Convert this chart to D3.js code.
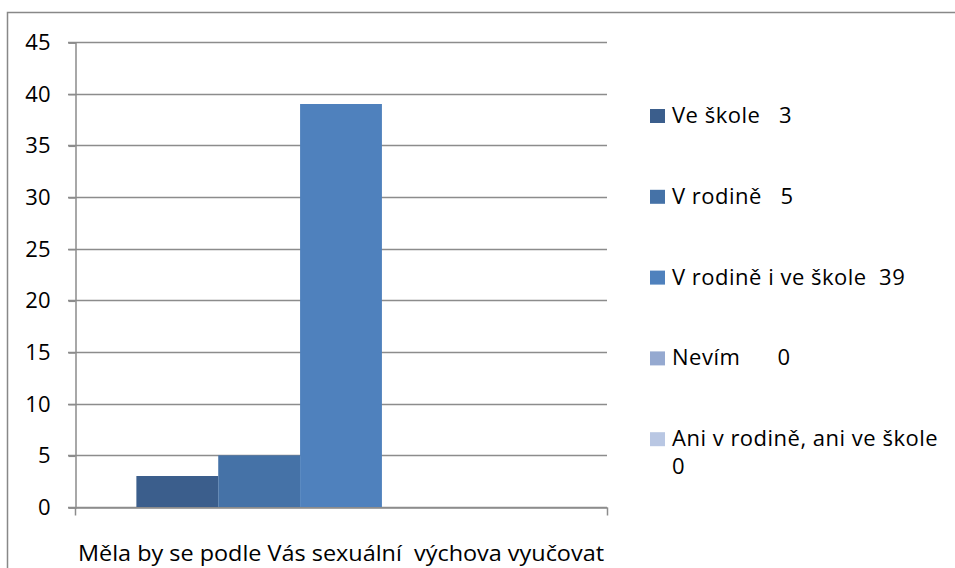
<!DOCTYPE html>
<html>
<head>
<meta charset="utf-8">
<script src="https://cdn.jsdelivr.net/npm/d3@7"></script>
<style>
  body { margin: 0; background: #fff; }
  text { font-family: "Open Sans", "DejaVu Sans", sans-serif; fill: #000; }
</style>
</head>
<body>
<div id="canvas"></div>
<script>
// data
let category = "Měla by se podle Vás sexuální  výchova vyučovat"
let series = ["Ve škole", "V rodině", "V rodině i ve škole", "Nevím", "Ani v rodině, ani ve škole"]
let values = [3, 5, 39, 0, 0]
let legendLabels = [["Ve škole   3"], ["V rodině   5"], ["V rodině i ve škole  39"], ["Nevím      0"], ["Ani v rodině, ani ve škole", "0"]]
let colors = ["#3b5e8c", "#4572a7", "#4f81bd", "#95a9d0", "#b9c7e3"]
let yTicks = [0, 5, 10, 15, 20, 25, 30, 35, 40, 45]

let width = 955
let height = 568
let plot = { left: 75, right: 607, top: 42, bottom: 507 }

let svg = d3.select("#canvas").append("svg")
    .attr("width", width)
    .attr("height", height)

// chart border (top + left visible)
svg.append("path")
    .attr("d", "M7.5," + height + "V12.5H" + width)
    .attr("fill", "none")
    .attr("stroke", "#888")
    .attr("stroke-width", 1.5)

let y = d3.scaleLinear().domain([0, 45]).range([plot.bottom, plot.top])
let x = d3.scaleBand().domain([category]).range([plot.left, plot.right])

// gridlines
svg.append("g")
    .selectAll("line")
    .data(yTicks)
    .enter().append("line")
    .attr("x1", plot.left - 7)
    .attr("x2", plot.right)
    .attr("y1", d => Math.round(y(d)) + 0.5)
    .attr("y2", d => Math.round(y(d)) + 0.5)
    .attr("stroke", "#8c8c8c")
    .attr("stroke-width", 1.5)

// bars: gap width 150% of bar width
let barW = x.bandwidth() / (series.length + 1.5)
let groupStart = x(category) + barW * 0.75
let xs = d3.scaleBand().domain(series).range([groupStart, groupStart + barW * series.length])

svg.append("g")
    .selectAll("rect")
    .data(values)
    .enter().append("rect")
    .attr("x", (d, i) => xs(series[i]))
    .attr("width", xs.bandwidth())
    .attr("y", d => y(d))
    .attr("height", d => plot.bottom - y(d))
    .attr("fill", (d, i) => colors[i])

// y axis
let yAxis = svg.append("g")
    .attr("transform", "translate(" + (plot.left + 0.5) + ",0.5)")
    .call(d3.axisLeft(y).tickValues(yTicks).tickSize(7).tickPadding(18))
yAxis.select(".domain").attr("stroke", "#8c8c8c").attr("stroke-width", 1.5)
yAxis.selectAll(".tick line").attr("stroke", "#8c8c8c").attr("stroke-width", 1.5)
yAxis.selectAll(".tick text")
    .attr("font-size", 22)
    .attr("font-family", "'Open Sans', sans-serif")
    .attr("fill", "#000")

// x axis
let xAxis = svg.append("g")
    .attr("transform", "translate(0," + (plot.bottom + 0.5) + ")")
    .call(d3.axisBottom(x).tickValues([]).tickSizeOuter(0))
xAxis.select(".domain").attr("stroke", "#8c8c8c").attr("stroke-width", 1.5)
xAxis.selectAll(".edge")
    .data([plot.left, plot.right])
    .enter().append("line")
    .attr("x1", d => d + 0.5).attr("x2", d => d + 0.5)
    .attr("y1", 0).attr("y2", 8)
    .attr("stroke", "#8c8c8c").attr("stroke-width", 1.5)

svg.append("text")
    .attr("x", x(category) + x.bandwidth() / 2)
    .attr("y", 561)
    .attr("text-anchor", "middle")
    .attr("font-size", 22)
    .attr("textLength", 526)
    .attr("lengthAdjust", "spacingAndGlyphs")
    .style("white-space", "pre")
    .text(category)

// legend
let legend = svg.append("g")
    .selectAll("g")
    .data(series)
    .enter().append("g")
    .attr("transform", (d, i) => "translate(650," + (123 + i * 80.8) + ")")

legend.append("rect")
    .attr("x", 0).attr("y", -14)
    .attr("width", 15).attr("height", 14)
    .attr("fill", (d, i) => colors[i])

legend.append("text")
    .attr("x", 22)
    .attr("y", 0)
    .attr("font-size", 22)
    .attr("letter-spacing", 0.5)
    .style("white-space", "pre")
    .selectAll("tspan")
    .data((d, i) => legendLabels[i])
    .enter().append("tspan")
    .attr("x", 22)
    .attr("dy", (d, j) => j === 0 ? 0 : 28)
    .text(d => d)
</script>
</body>
</html>
